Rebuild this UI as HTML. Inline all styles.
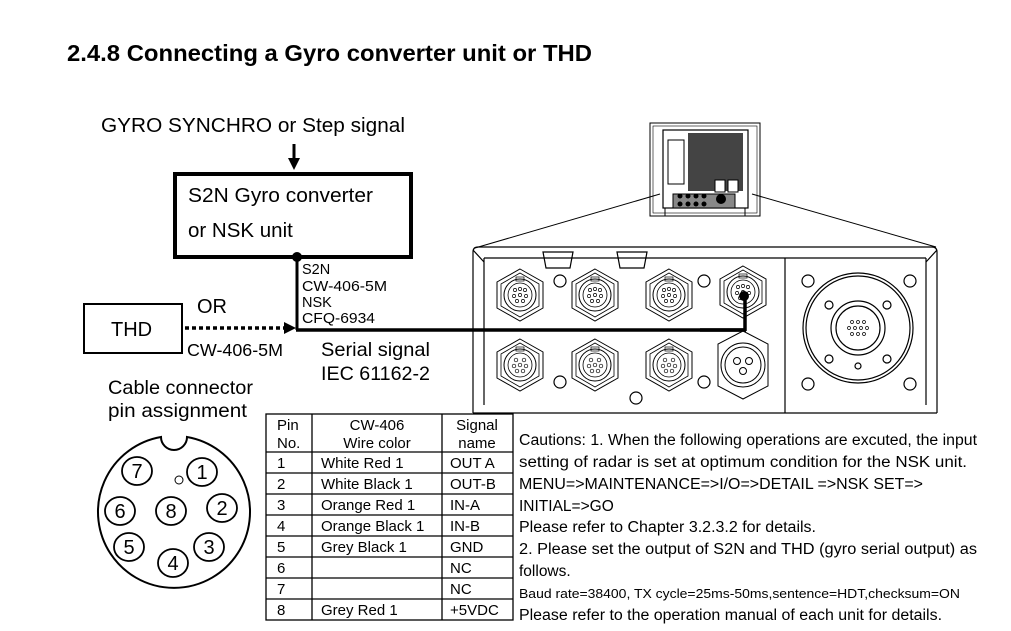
<!DOCTYPE html>
<html><head><meta charset="utf-8"><style>
html,body{margin:0;padding:0;background:#fff;}
svg{display:block;}
text{font-family:"Liberation Sans",Arial,sans-serif;fill:#000;}
</style></head><body>
<svg width="1011" height="631" viewBox="0 0 1011 631" xmlns="http://www.w3.org/2000/svg">
<defs>
<g id="con8">
<polygon points="0,-26 23,-13 23,13 0,26 -23,13 -23,-13" fill="#fff" stroke="#000" stroke-width="1"/>
<polygon points="0,-22 19,-11 19,11 0,22 -19,11 -19,-11" fill="none" stroke="#000" stroke-width="0.8"/>
<circle r="16" fill="none" stroke="#000" stroke-width="1"/>
<circle r="12" fill="none" stroke="#000" stroke-width="0.8"/>
<rect x="-4" y="-18" width="8" height="4" fill="none" stroke="#000" stroke-width="0.7"/>
<g fill="none" stroke="#000" stroke-width="0.7">
<circle cx="-5" cy="-5" r="1.6"/><circle cx="0" cy="-6" r="1.6"/><circle cx="5" cy="-5" r="1.6"/>
<circle cx="-6" cy="1" r="1.6"/><circle cx="0" cy="0" r="1.6"/><circle cx="6" cy="1" r="1.6"/>
<circle cx="-3" cy="6" r="1.6"/><circle cx="3" cy="6" r="1.6"/>
</g>
</g>
<g id="con6">
<polygon points="0,-26 23,-13 23,13 0,26 -23,13 -23,-13" fill="#fff" stroke="#000" stroke-width="1"/>
<polygon points="0,-22 19,-11 19,11 0,22 -19,11 -19,-11" fill="none" stroke="#000" stroke-width="0.8"/>
<circle r="16" fill="none" stroke="#000" stroke-width="1"/>
<circle r="12" fill="none" stroke="#000" stroke-width="0.8"/>
<rect x="-4" y="-18" width="8" height="4" fill="none" stroke="#000" stroke-width="0.7"/>
<g fill="none" stroke="#000" stroke-width="0.7">
<circle cx="-4" cy="-5" r="1.8"/><circle cx="4" cy="-5" r="1.8"/>
<circle cx="-6" cy="1" r="1.8"/><circle cx="0" cy="0" r="1.8"/><circle cx="6" cy="1" r="1.8"/>
<circle cx="-3" cy="6" r="1.8"/><circle cx="3" cy="6" r="1.8"/>
</g>
</g>
</defs>

<text x="67" y="61" font-size="23.5" font-weight="bold" textLength="525" lengthAdjust="spacingAndGlyphs">2.4.8 Connecting a Gyro converter unit or THD</text>

<text x="101" y="132" font-size="20.5" textLength="304" lengthAdjust="spacingAndGlyphs">GYRO SYNCHRO or Step signal</text>
<line x1="294" y1="144" x2="294" y2="160" stroke="#000" stroke-width="3"/>
<polygon points="288,158 300,158 294,170" fill="#000"/>
<rect x="175" y="174" width="236" height="83" fill="none" stroke="#000" stroke-width="4"/>
<text x="188" y="202" font-size="20.5" textLength="185" lengthAdjust="spacingAndGlyphs">S2N Gyro converter</text>
<text x="188" y="237" font-size="20.5">or NSK unit</text>

<circle cx="297" cy="257" r="5" fill="#000"/>
<line x1="297" y1="257" x2="297" y2="330" stroke="#000" stroke-width="3"/>
<line x1="296" y1="330" x2="746" y2="330" stroke="#000" stroke-width="3.5"/>
<text x="302" y="274" font-size="14.5">S2N</text>
<text x="302" y="291" font-size="14.5" textLength="85" lengthAdjust="spacingAndGlyphs">CW-406-5M</text>
<text x="302" y="307" font-size="14.5">NSK</text>
<text x="302" y="323" font-size="14.5" textLength="73" lengthAdjust="spacingAndGlyphs">CFQ-6934</text>
<text x="321" y="356" font-size="19.5" textLength="109" lengthAdjust="spacingAndGlyphs">Serial signal</text>
<text x="321" y="380" font-size="19.5" textLength="109" lengthAdjust="spacingAndGlyphs">IEC 61162-2</text>

<rect x="84" y="304" width="98" height="49" fill="none" stroke="#000" stroke-width="2"/>
<text x="111" y="336" font-size="20">THD</text>
<text x="197" y="313" font-size="20">OR</text>
<line x1="185" y1="328" x2="285" y2="328" stroke="#000" stroke-width="3.5" stroke-dasharray="4,3"/>
<polygon points="284,322 296,328 284,334" fill="#000"/>
<text x="187" y="356" font-size="17.5" textLength="96" lengthAdjust="spacingAndGlyphs">CW-406-5M</text>

<text x="108" y="394" font-size="19.5" textLength="145" lengthAdjust="spacingAndGlyphs">Cable connector</text>
<text x="108" y="417" font-size="19.5" textLength="139" lengthAdjust="spacingAndGlyphs">pin assignment</text>

<path d="M161,437 A76,76 0 1 0 187,437 A13,13 0 0 1 161,437 Z" fill="none" stroke="#000" stroke-width="2"/>
<g fill="none" stroke="#000" stroke-width="1.8">
<ellipse cx="137" cy="471" rx="15" ry="14"/>
<ellipse cx="202" cy="472" rx="15" ry="14"/>
<ellipse cx="120" cy="511" rx="15" ry="14"/>
<ellipse cx="171" cy="511" rx="15" ry="14"/>
<ellipse cx="222" cy="508" rx="15" ry="14"/>
<ellipse cx="129" cy="547" rx="15" ry="14"/>
<ellipse cx="173" cy="563" rx="15" ry="14"/>
<ellipse cx="209" cy="547" rx="15" ry="14"/>
<circle cx="179" cy="480" r="4" stroke-width="1"/>
</g>
<g font-size="20" text-anchor="middle">
<text x="137" y="478">7</text><text x="202" y="479">1</text>
<text x="120" y="518">6</text><text x="171" y="518">8</text><text x="222" y="515">2</text>
<text x="129" y="554">5</text><text x="173" y="570">4</text><text x="209" y="554">3</text>
</g>

<g stroke="#000" stroke-width="1.3" fill="none">
<rect x="266" y="414" width="247" height="206"/>
<line x1="312" y1="414" x2="312" y2="620"/>
<line x1="442" y1="414" x2="442" y2="620"/>
<line x1="266" y1="452" x2="513" y2="452"/>
<line x1="266" y1="473" x2="513" y2="473"/>
<line x1="266" y1="494" x2="513" y2="494"/>
<line x1="266" y1="515" x2="513" y2="515"/>
<line x1="266" y1="536" x2="513" y2="536"/>
<line x1="266" y1="557" x2="513" y2="557"/>
<line x1="266" y1="578" x2="513" y2="578"/>
<line x1="266" y1="599" x2="513" y2="599"/>
</g>
<g font-size="15">
<text x="277" y="430">Pin</text><text x="277" y="448">No.</text>
<text x="377" y="430" text-anchor="middle">CW-406</text><text x="377" y="448" text-anchor="middle">Wire color</text>
<text x="477" y="430" text-anchor="middle">Signal</text><text x="477" y="448" text-anchor="middle">name</text>
<text x="277" y="468">1</text><text x="321" y="468">White Red 1</text><text x="450" y="468">OUT A</text>
<text x="277" y="489">2</text><text x="321" y="489">White Black 1</text><text x="450" y="489">OUT-B</text>
<text x="277" y="510">3</text><text x="321" y="510">Orange Red 1</text><text x="450" y="510">IN-A</text>
<text x="277" y="531">4</text><text x="321" y="531">Orange Black 1</text><text x="450" y="531">IN-B</text>
<text x="277" y="552">5</text><text x="321" y="552">Grey Black 1</text><text x="450" y="552">GND</text>
<text x="277" y="573">6</text><text x="450" y="573">NC</text>
<text x="277" y="594">7</text><text x="450" y="594">NC</text>
<text x="277" y="615">8</text><text x="321" y="615">Grey Red 1</text><text x="450" y="615">+5VDC</text>
</g>

<g font-size="15.5">
<text x="519" y="445" textLength="458" lengthAdjust="spacingAndGlyphs">Cautions: 1. When the following operations are excuted, the input</text>
<text x="519" y="467" textLength="448" lengthAdjust="spacingAndGlyphs">setting of radar is set at optimum condition for the NSK unit.</text>
<text x="519" y="489" textLength="404" lengthAdjust="spacingAndGlyphs">MENU=&gt;MAINTENANCE=&gt;I/O=&gt;DETAIL =&gt;NSK SET=&gt;</text>
<text x="519" y="511">INITIAL=&gt;GO</text>
<text x="519" y="532" textLength="297" lengthAdjust="spacingAndGlyphs">Please refer to Chapter 3.2.3.2 for details.</text>
<text x="519" y="554" textLength="458" lengthAdjust="spacingAndGlyphs">2. Please set the output of S2N and THD (gyro serial output) as</text>
<text x="519" y="576">follows.</text>
<text x="519" y="598" font-size="13" textLength="441" lengthAdjust="spacingAndGlyphs">Baud rate=38400, TX cycle=25ms-50ms,sentence=HDT,checksum=ON</text>
<text x="519" y="620" textLength="423" lengthAdjust="spacingAndGlyphs">Please refer to the operation manual of each unit for details.</text>
</g>

<g stroke="#000" fill="none" stroke-width="1">
<rect x="650" y="123" width="110" height="93"/>
<rect x="653" y="126" width="104" height="87" stroke-width="0.6"/>
<rect x="663" y="130" width="85" height="78" stroke-width="1.2"/>
<rect x="668" y="140" width="16" height="44"/>
<rect x="688" y="133" width="55" height="58" fill="#444" stroke="none"/>
<rect x="715" y="180" width="10" height="12" fill="#fff"/>
<rect x="728" y="180" width="10" height="12" fill="#fff"/>
<rect x="673" y="194" width="62" height="14" fill="#888"/>
<rect x="665" y="208" width="80" height="8"/>
<line x1="660" y1="194" x2="475" y2="248"/>
<line x1="752" y1="194" x2="936" y2="247"/>
</g>
<g fill="#000">
<circle cx="680" cy="196" r="2.5"/><circle cx="688" cy="196" r="2.5"/><circle cx="696" cy="196" r="2.5"/><circle cx="704" cy="196" r="2.5"/>
<circle cx="680" cy="204" r="2.5"/><circle cx="688" cy="204" r="2.5"/><circle cx="696" cy="204" r="2.5"/><circle cx="704" cy="204" r="2.5"/>
<circle cx="721" cy="199" r="5"/>
</g>

<g stroke="#000" fill="none" stroke-width="1.2">
<path d="M473,413 L473,252 Q473,247 478,247 L932,247 Q937,247 937,252 L937,413"/>
<line x1="473" y1="413" x2="937" y2="413"/>
<line x1="785" y1="258" x2="785" y2="413"/>
<line x1="785" y1="258" x2="926" y2="258"/>
<line x1="484" y1="258" x2="785" y2="258"/>
<line x1="484" y1="258" x2="484" y2="405"/>
<line x1="926" y1="258" x2="926" y2="405"/>
<line x1="473" y1="250" x2="484" y2="262"/>
<line x1="937" y1="250" x2="926" y2="262"/>
<path d="M543,252 L573,252 L570,268 L546,268 Z"/>
<path d="M617,252 L647,252 L644,268 L620,268 Z"/>
<circle cx="560" cy="281" r="6"/>
<circle cx="704" cy="281" r="6"/>
<circle cx="560" cy="382" r="6"/>
<circle cx="704" cy="382" r="6"/>
<circle cx="636" cy="398" r="6"/>
<circle cx="808" cy="281" r="6"/><circle cx="910" cy="281" r="6"/>
<circle cx="808" cy="384" r="6"/><circle cx="910" cy="384" r="6"/>
<circle cx="858" cy="328" r="55"/>
<circle cx="858" cy="328" r="52"/>
<circle cx="858" cy="328" r="27"/>
<circle cx="858" cy="328" r="22"/>
<circle cx="829" cy="305" r="4"/><circle cx="887" cy="305" r="4"/>
<circle cx="829" cy="359" r="4"/><circle cx="887" cy="359" r="4"/>
<circle cx="858" cy="366" r="3"/>
</g>
<g fill="none" stroke="#000" stroke-width="0.7">
<circle cx="852" cy="322" r="1.5"/><circle cx="858" cy="322" r="1.5"/><circle cx="864" cy="322" r="1.5"/>
<circle cx="849" cy="328" r="1.5"/><circle cx="855" cy="328" r="1.5"/><circle cx="861" cy="328" r="1.5"/><circle cx="867" cy="328" r="1.5"/>
<circle cx="852" cy="334" r="1.5"/><circle cx="858" cy="334" r="1.5"/><circle cx="864" cy="334" r="1.5"/>
</g>
<use href="#con8" x="520" y="295"/>
<use href="#con8" x="595" y="295"/>
<use href="#con8" x="669" y="295"/>
<use href="#con6" x="520" y="365"/>
<use href="#con6" x="595" y="365"/>
<use href="#con6" x="669" y="365"/>
<g stroke="#000" fill="#fff" stroke-width="1">
<polygon points="743,331 768,344 768,386 743,399 718,386 718,344"/>
<circle cx="743" cy="365" r="22"/>
<circle cx="743" cy="365" r="18" fill="none"/>
<circle cx="737" cy="361" r="3.5" fill="none"/><circle cx="749" cy="361" r="3.5" fill="none"/><circle cx="743" cy="371" r="3.5" fill="none"/>
</g>
<use href="#con8" x="743" y="292"/>
<line x1="745" y1="300" x2="745" y2="331" stroke="#000" stroke-width="3.5"/>
<line x1="700" y1="330" x2="746" y2="330" stroke="#000" stroke-width="3.5"/>
<circle cx="744" cy="296" r="5" fill="#000"/>
</svg>
</body></html>
